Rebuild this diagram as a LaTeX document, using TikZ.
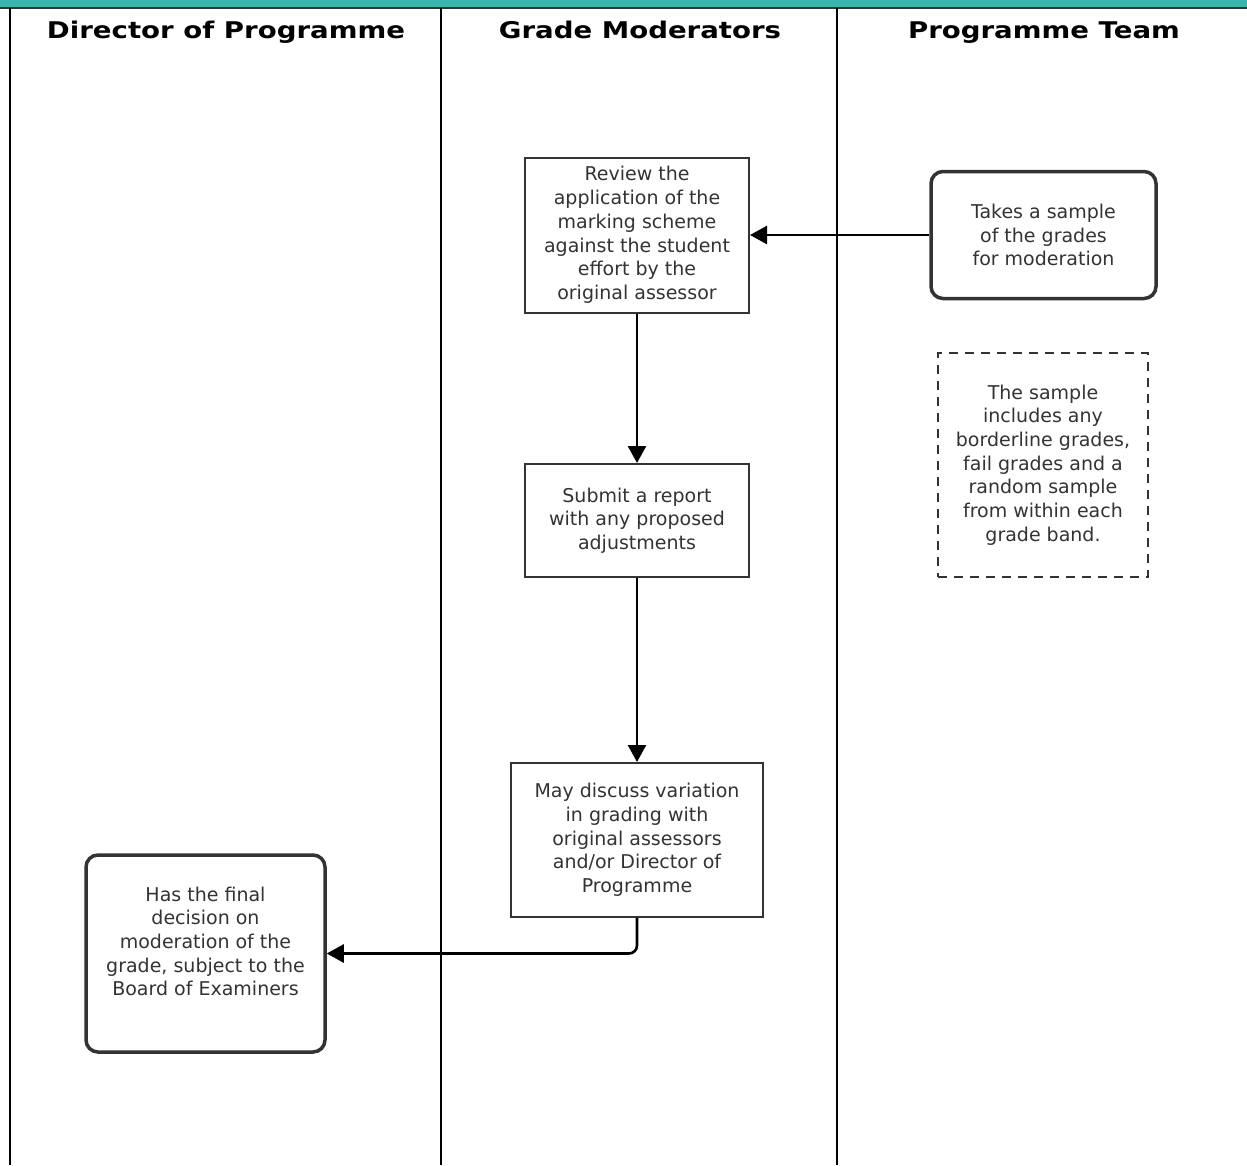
\documentclass[tikz,border=0pt]{standalone}
\usepackage{fontspec}
\setmainfont{DejaVu Sans}
\usetikzlibrary{arrows.meta}
\definecolor{teal1}{HTML}{3AB5AB}
\definecolor{topline}{HTML}{243A3A}
\definecolor{txt}{HTML}{333333}
\tikzset{
  box/.style={draw=txt, line width=2pt, fill=white, align=center, text=txt,
    font=\fontsize{19}{23.7}\selectfont, inner sep=0pt},
  rbox/.style={box, rounded corners=12pt, line width=3.5pt},
  notebox/.style={box, dash pattern=on 9pt off 7pt},
  lane/.style={line width=2.6pt, black},
  conn/.style={line width=2.6pt, black, -{Triangle[length=17pt,width=18pt]}},
  head/.style={font=\bfseries\fontsize{23}{27}\selectfont, text=black, inner sep=0pt, anchor=base}
}
\begin{document}
\begin{tikzpicture}[x=1pt,y=-1pt]
\useasboundingbox (0,0) rectangle (1247,1165);
\fill[teal1] (0,0) rectangle (1247,7);
\draw[line width=2.5pt, topline] (0,8) -- (1247,8);
% lanes
\coordinate (l1t) at (10,8);   \coordinate (l1b) at (10,1165);
\coordinate (l2t) at (441,8);  \coordinate (l2b) at (441,1165);
\coordinate (l3t) at (837,8);  \coordinate (l3b) at (837,1165);
\draw[lane] (l1t) -- (l1b);
\draw[lane] (l2t) -- (l2b);
\draw[lane] (l3t) -- (l3b);
% headers
\node[head] (h1) at (226,38) {\scalebox{1.2}[1]{Director of Programme}};
\node[head] (h2) at (640,38) {\scalebox{1.2}[1]{Grade Moderators}};
\node[head] (h3) at (1044,38) {\scalebox{1.2}[1]{Programme Team}};
% boxes
\node[box, minimum width=224pt, minimum height=155pt] (review) at (637,235)
  {Review the\\application of the\\marking scheme\\against the student\\effort by the\\original assessor};
\node[rbox, minimum width=225pt, minimum height=127pt] (takes) at (1043.5,235)
  {Takes a sample\\of the grades\\for moderation};
\node[notebox, minimum width=210pt, minimum height=224pt] (note) at (1043,465)
  {The sample\\includes any\\borderline grades,\\fail grades and a\\random sample\\from within each\\grade band.};
\node[box, minimum width=224pt, minimum height=113pt] (submit) at (637,520.5)
  {Submit a report\\with any proposed\\adjustments};
\node[box, minimum width=252pt, minimum height=154pt] (may) at (637,840)
  {May discuss variation\\in grading with\\original assessors\\and/or Director of\\Programme};
\node[rbox, minimum width=239pt, minimum height=197pt] (has) at (205.5,953.5) {};
\node[box, draw=none, fill=none] (hastext) at (205.5,941.5)
  {Has the final\\decision on\\moderation of the\\grade, subject to the\\Board of Examiners};
% connectors
\draw[conn] (takes.west) -- (review.east);
\draw[conn] (review.south) -- (submit.north);
\draw[conn] (submit.south) -- (may.north);
\draw[conn, rounded corners=8pt] (may.south) |- (has.east);
\end{tikzpicture}
\end{document}
